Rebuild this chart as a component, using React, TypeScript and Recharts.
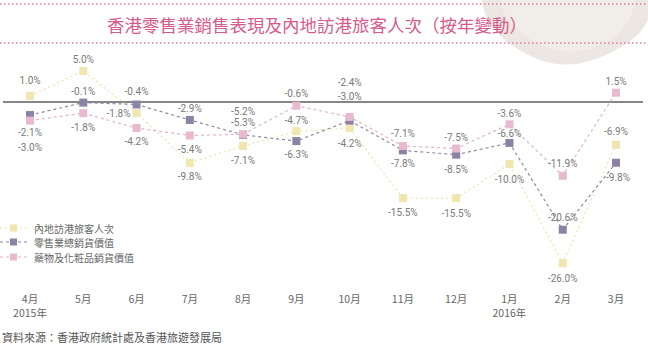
import React from 'react';
import { LineChart, Line, XAxis, YAxis, ReferenceLine, LabelList } from 'recharts';

const months = ['4月', '5月', '6月', '7月', '8月', '9月', '10月', '11月', '12月', '1月', '2月', '3月'];
const years = ['2015年', '', '', '', '', '', '', '', '', '2016年', '', ''];
const visitors = [1.0, 5.0, -1.8, -9.8, -7.1, -4.7, -4.2, -15.5, -15.5, -10.0, -26.0, -6.9];
const retail = [-2.1, -0.1, -0.4, -2.9, -5.3, -6.3, -3.0, -7.8, -8.5, -6.6, -20.6, -9.8];
const cosmetics = [-3.0, -1.8, -4.2, -5.4, -5.2, -0.6, -2.4, -7.1, -7.5, -3.6, -11.9, 1.5];

const seriesNames = ['內地訪港旅客人次', '零售業總銷貨價值', '藥物及化粧品銷貨價值'];

// label placement (style)
const visitorsDy = [-15, -12, 0, 14, 14, -11, 15, 14, 15, 15, 15, -13];
const visitorsDx = [0, 0, -18, 0, 0, 0, 0, 0, 0, 0, 0, 0];
const retailDy = [17, -11, -13, -11, -12, 13, -24, 13, 15, -9, -12, 15];
const retailDx = [0, 0, 0, 0, 0, 0, 0, 0, 0, 0, 0, 2];
const cosmeticsDy = [27, 14, 13, 14, -23, -12, -34, -13, -11, -11, -12, -11];
const zeroDx = [0, 0, 0, 0, 0, 0, 0, 0, 0, 0, 0, 0];

const data = months.map((m, i) => ({
  month: m,
  year: years[i],
  visitors: visitors[i],
  retail: retail[i],
  cosmetics: cosmetics[i],
}));

const COLORS = {
  visitors: '#efe6b0',
  visitorsLine: '#ece2ad',
  retail: '#8c82a6',
  retailLine: '#8f86a6',
  cosmetics: '#e7bad0',
  cosmeticsLine: '#e2b4c8',
};

const CJK = '"Noto Sans CJK TC", "Noto Sans CJK SC", sans-serif';

const squareDot = (color: string) => (props: any) => {
  const { cx, cy, index } = props;
  if (cx == null || cy == null) return <g key={`d${index}`} />;
  return <rect key={`d${index}`} x={cx - 4} y={cy - 4} width={8} height={8} fill={color} />;
};

const makeLabel = (dys: number[], dxs: number[]) => (props: any) => {
  const { x, y, value, index } = props;
  if (x == null || y == null) return null;
  return (
    <text
      key={`l${index}`}
      x={x + dxs[index]}
      y={y + dys[index]}
      textAnchor="middle"
      dominantBaseline="central"
      fontFamily="Roboto, sans-serif"
      fontSize={10}
      fill="#7a7a7a"
    >
      {`${Number(value).toFixed(1)}%`}
    </text>
  );
};

const MonthTick = (props: any) => {
  const { x, y, payload, index } = props;
  const yr = years[index];
  return (
    <g>
      <text x={x} y={y + 10} textAnchor="middle" dominantBaseline="central" fontFamily={CJK} fontSize={10.5} fill="#666">
        {payload.value}
      </text>
      {yr ? (
        <text x={x} y={y + 24} textAnchor="middle" dominantBaseline="central" fontFamily={CJK} fontSize={10.5} fill="#666">
          {yr}
        </text>
      ) : null}
    </g>
  );
};

const legendItems = [
  { name: seriesNames[0], color: COLORS.visitors, line: COLORS.visitorsLine, dash: '2 3', y: 228 },
  { name: seriesNames[1], color: COLORS.retail, line: COLORS.retailLine, dash: '3 3', y: 242 },
  { name: seriesNames[2], color: COLORS.cosmetics, line: COLORS.cosmeticsLine, dash: '3 3', y: 257 },
];

export default function App() {
  return (
    <div style={{ position: 'absolute', left: 0, top: 0, width: 648, height: 354, background: '#fff', overflow: 'hidden' }}>
      <svg width={648} height={354} style={{ position: 'absolute', left: 0, top: 0 }}>
        <path d="M 482 0 Q 486 38 540 60 Q 575 72 612 52 Q 640 38 648 20 L 648 0 Z" fill="#ece7e2" />
        <path d="M 500 0 Q 505 30 548 48 Q 580 58 610 40 Q 630 28 636 0 Z" fill="#f1ede9" />
        <line x1={0} y1={4} x2={648} y2={4} stroke="#e27aa2" strokeWidth={1.5} strokeDasharray="1.5 2.5" />
        <line x1={0} y1={43} x2={648} y2={43} stroke="#e27aa2" strokeWidth={1.5} strokeDasharray="1.5 2.5" />
        <text x={317} y={24} textAnchor="middle" dominantBaseline="central" fontFamily={CJK} fontSize={17.5} fill="#d75a8c">
          香港零售業銷售表現及內地訪港旅客人次（按年變動）
        </text>
      </svg>
      <div style={{ position: 'absolute', left: 0, top: 0 }}>
        <LineChart width={648} height={354} data={data} margin={{ top: 40, right: 5, bottom: 36, left: 3 }}>
          <XAxis
            dataKey="month"
            height={30}
            padding={{ left: 27, right: 27 }}
            axisLine={false}
            tickLine={false}
            tickSize={0}
            tickMargin={0}
            interval={0}
            tick={<MonthTick />}
          />
          <YAxis hide domain={[-30, 10]} />
          <ReferenceLine y={0} stroke="#5e5e5e" strokeWidth={1.5} />
          <Line
            dataKey="visitors"
            stroke={COLORS.visitorsLine}
            strokeWidth={1.2}
            strokeDasharray="2 3"
            dot={squareDot(COLORS.visitors)}
            activeDot={false}
            isAnimationActive={false}
          >
            <LabelList dataKey="visitors" content={makeLabel(visitorsDy, visitorsDx)} />
          </Line>
          <Line
            dataKey="retail"
            stroke={COLORS.retailLine}
            strokeWidth={1.2}
            strokeDasharray="3 3"
            dot={squareDot(COLORS.retail)}
            activeDot={false}
            isAnimationActive={false}
          >
            <LabelList dataKey="retail" content={makeLabel(retailDy, retailDx)} />
          </Line>
          <Line
            dataKey="cosmetics"
            stroke={COLORS.cosmeticsLine}
            strokeWidth={1.2}
            strokeDasharray="3 3"
            dot={squareDot(COLORS.cosmetics)}
            activeDot={false}
            isAnimationActive={false}
          >
            <LabelList dataKey="cosmetics" content={makeLabel(cosmeticsDy, zeroDx)} />
          </Line>
        </LineChart>
      </div>
      <svg width={648} height={354} style={{ position: 'absolute', left: 0, top: 0, pointerEvents: 'none' }}>
        {legendItems.map((it) => (
          <g key={it.name}>
            <line x1={0} y1={it.y} x2={28} y2={it.y} stroke={it.line} strokeWidth={1.2} strokeDasharray={it.dash} />
            <rect x={10} y={it.y - 3.5} width={7} height={7} fill={it.color} />
            <text x={34} y={it.y} dominantBaseline="central" fontFamily={CJK} fontSize={10} fill="#666">
              {it.name}
            </text>
          </g>
        ))}
        <text x={2} y={337} dominantBaseline="central" fontFamily={CJK} fontSize={11} fill="#555">
          資料來源：香港政府統計處及香港旅遊發展局
        </text>
      </svg>
    </div>
  );
}
